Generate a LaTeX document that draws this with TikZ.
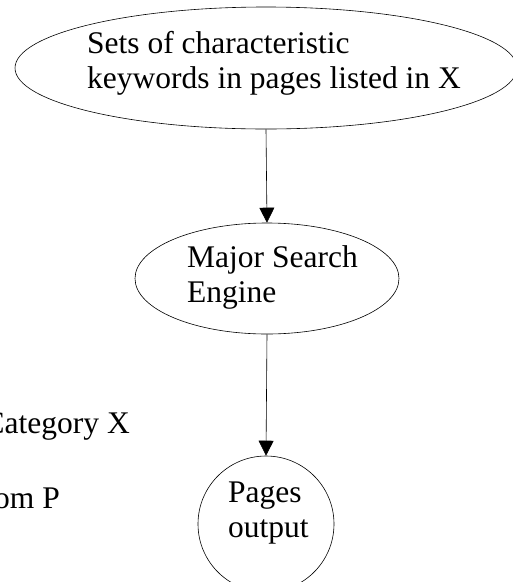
\documentclass[tikz,border=0pt]{standalone}
\usepackage{fontspec}
\setmainfont{Liberation Serif}
\usetikzlibrary{arrows.meta,shapes.geometric}
\begin{document}
\begin{tikzpicture}[x=1pt,y=-1pt,
  oval/.style={draw,ellipse,inner sep=0pt,line width=0.6pt},
  lbl/.style={anchor=base west,inner sep=0pt,font=\fontsize{31.5}{35}\selectfont},
  lblr/.style={anchor=base east,inner sep=0pt,font=\fontsize{31.5}{35}\selectfont},
  arr/.style={-{Triangle[width=15pt,length=15pt]},line width=0.6pt}]
\useasboundingbox (0,0) rectangle (513,582);
\clip (0,0) rectangle (513,582);
% top ellipse
\node[oval,minimum width=502pt,minimum height=122pt] (kw) at (266,68) {};
\node[lbl] (kw1) at (87,53) {Sets of characteristic};
\node[lbl] (kw2) at (87,88) {keywords in pages listed in X};
% middle ellipse
\node[oval,minimum width=264pt,minimum height=111pt] (se) at (267,278.5) {};
\node[lbl] (se1) at (187,267) {Major Search};
\node[lbl] (se2) at (187,302) {Engine};
% bottom circle
\node[oval,minimum width=136pt,minimum height=136pt] (po) at (266,524) {};
\node[lbl] (po1) at (228,502) {Pages};
\node[lbl] (po2) at (228,537) {output};
% left cut-off texts
\node[lblr] (cx) at (130,433) {Category X};
\node[lblr] (fp) at (60,508) {om P};
% arrows
\draw[arr] (kw.south) -- (se.north);
\draw[arr] (se.south) -- (po.north);
\end{tikzpicture}
\end{document}
